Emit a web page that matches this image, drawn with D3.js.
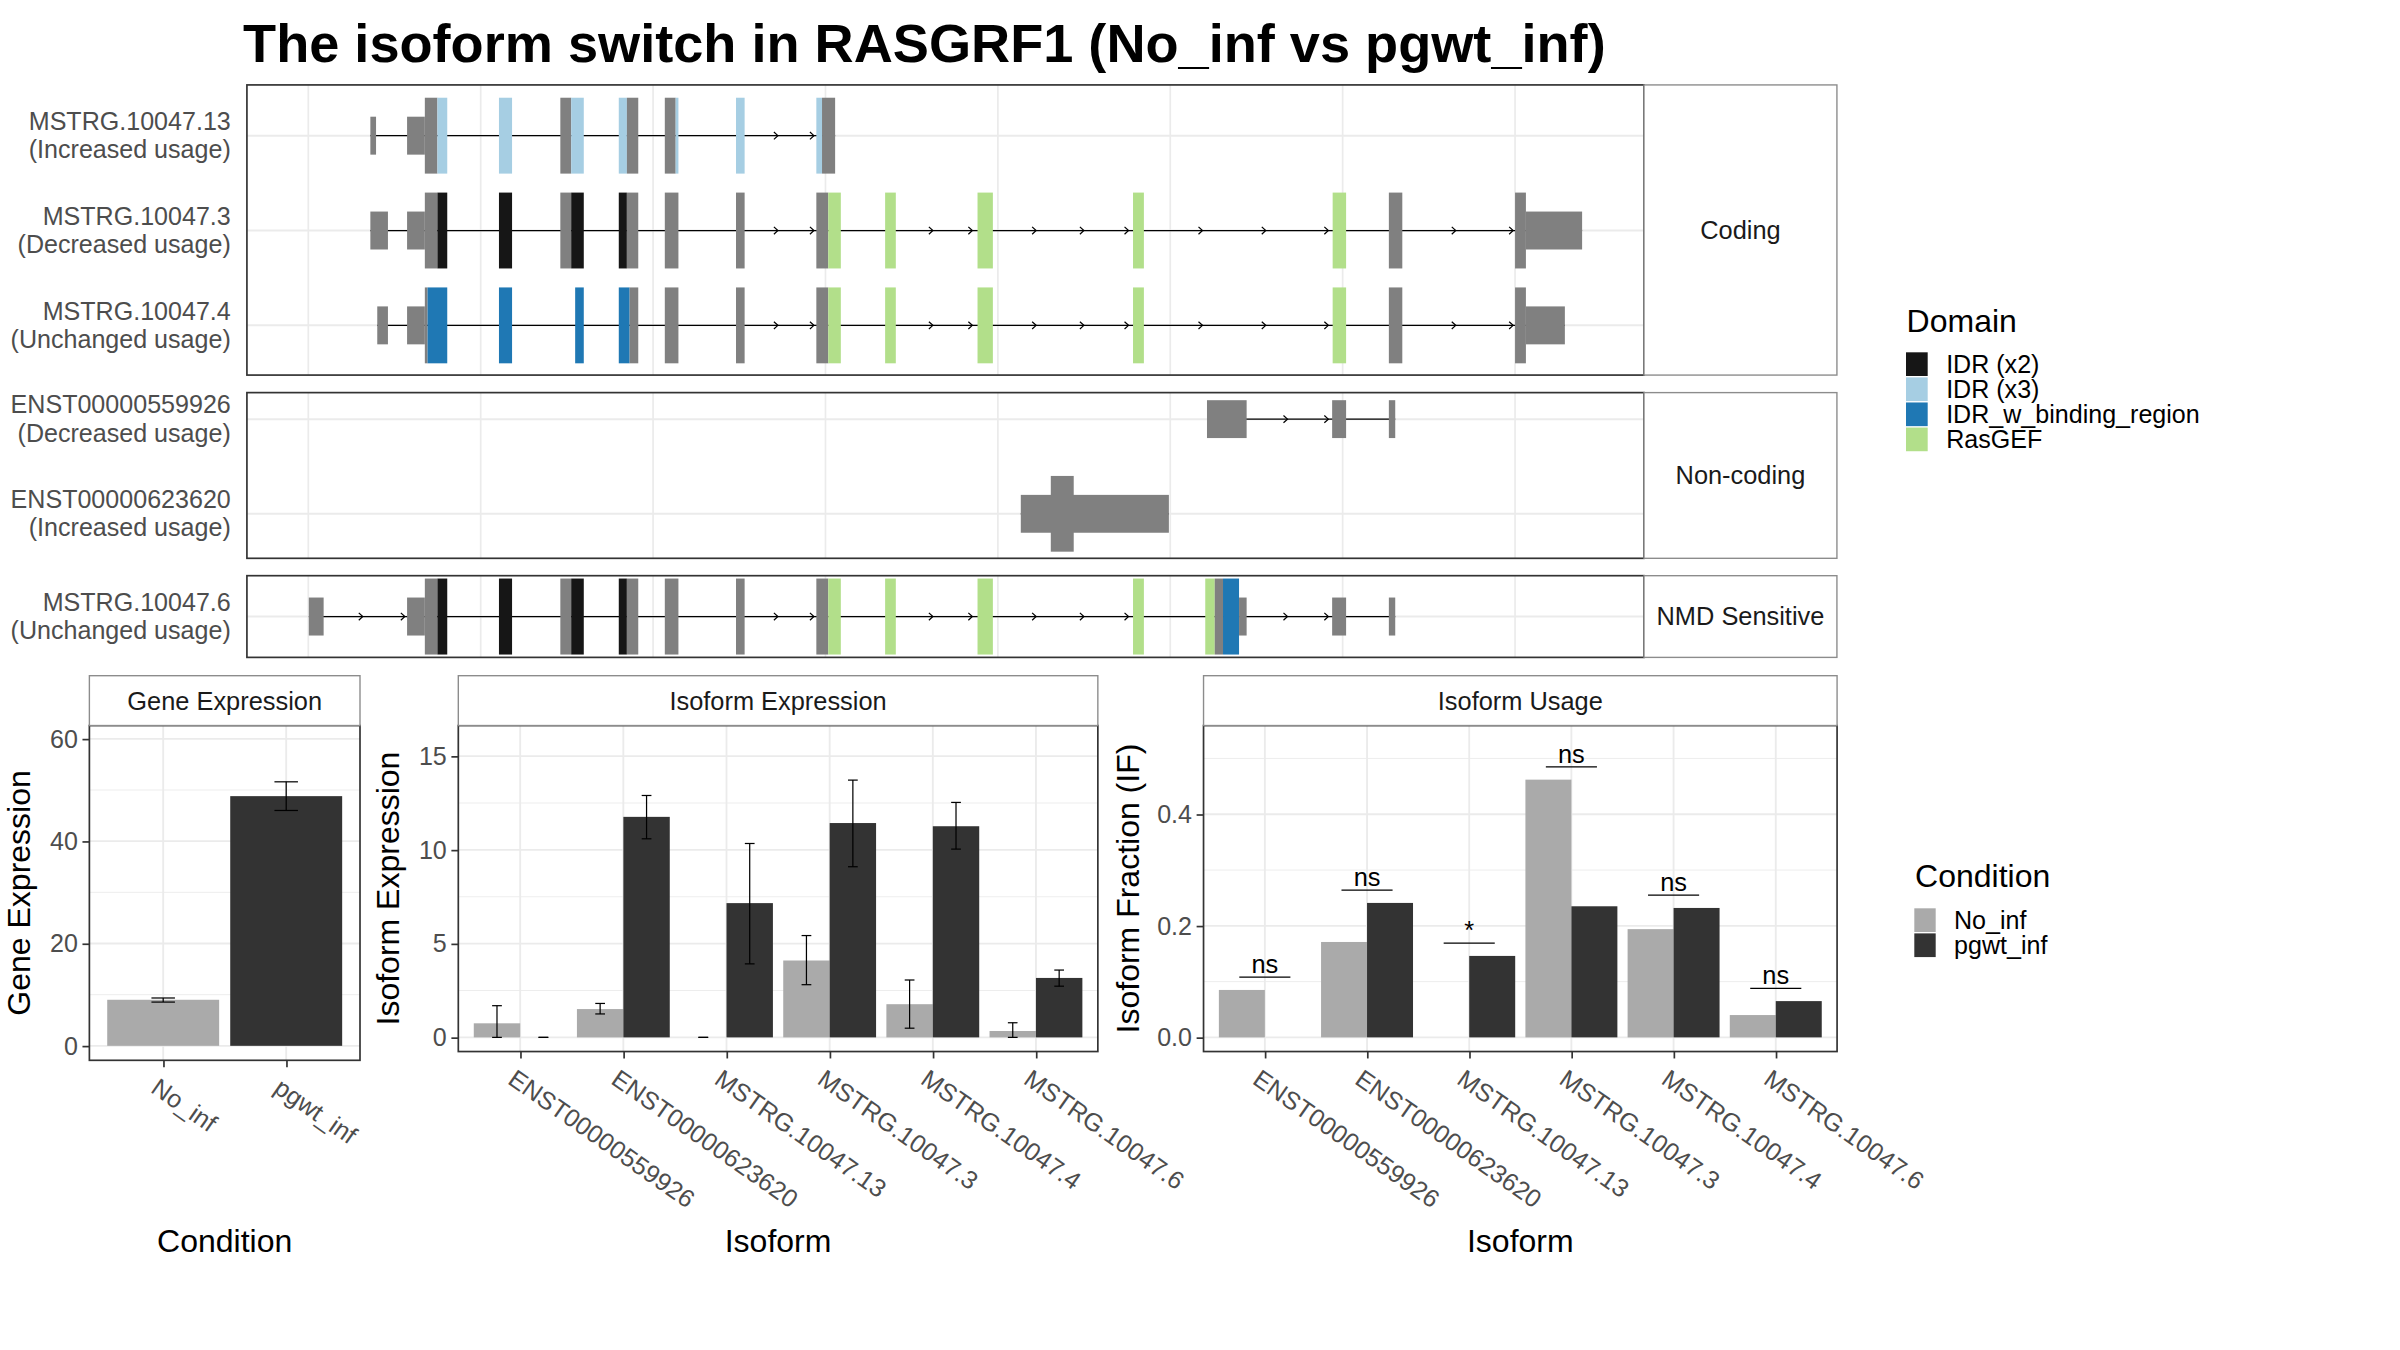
<!DOCTYPE html>
<html>
<head>
<meta charset="utf-8">
<script src="https://cdn.jsdelivr.net/npm/d3@7"></script>
<style>
  body { margin: 0; background: #fff; }
  svg { display: block; }
</style>
</head>
<body>
<div id="chart"></div>
<script>

// ---- data ----
var title = "The isoform switch in RASGRF1 (No_inf vs pgwt_inf)";

var domainNames  = ["IDR (x2)", "IDR (x3)", "IDR_w_binding_region", "RasGEF"];
var domainColors = ["#161616", "#a6cee3", "#1f78b4", "#b2df8a"];
var exonGray = "#808080";

var conditions      = ["No_inf", "pgwt_inf"];
var conditionColors = ["#aaaaaa", "#333333"];

var facets = ["Coding", "Non-coding", "NMD Sensitive"];

var txNames = ["MSTRG.10047.13", "MSTRG.10047.3", "MSTRG.10047.4",
               "ENST00000559926", "ENST00000623620", "MSTRG.10047.6"];
var txUsage = ["Increased usage", "Decreased usage", "Unchanged usage",
               "Decreased usage", "Increased usage", "Unchanged usage"];
var txFacet = ["Coding", "Coding", "Coding", "Non-coding", "Non-coding", "NMD Sensitive"];
var txRow   = [0, 1, 2, 0, 1, 0];

// exon pieces: [start, end, kind, domain index (-1 = none)] in kb (rescaled)
var exons_13 = [
  [13.60, 13.93, "utr", -1], [15.73, 16.76, "utr", -1],
  [16.76, 17.49, "cds", -1], [17.49, 18.06, "cds", 1],
  [21.06, 21.82, "cds", 1],
  [24.62, 25.25, "cds", -1], [25.25, 25.98, "cds", 1],
  [28.01, 28.48, "cds", 1], [28.48, 29.14, "cds", -1],
  [30.68, 31.31, "cds", -1], [31.31, 31.47, "cds", 1],
  [34.81, 35.31, "cds", 1],
  [39.47, 39.80, "cds", 1], [39.80, 40.56, "cds", -1]
];
var exons_3 = [
  [13.60, 14.62, "utr", -1], [15.73, 16.76, "utr", -1],
  [16.76, 17.49, "cds", -1], [17.49, 18.06, "cds", 0],
  [21.06, 21.82, "cds", 0],
  [24.62, 25.25, "cds", -1], [25.25, 25.98, "cds", 0],
  [28.01, 28.48, "cds", 0], [28.48, 29.14, "cds", -1],
  [30.68, 31.47, "cds", -1],
  [34.81, 35.31, "cds", -1],
  [39.47, 40.16, "cds", -1], [40.16, 40.89, "cds", 3],
  [43.46, 44.08, "cds", 3],
  [48.82, 49.71, "cds", 3],
  [57.84, 58.47, "cds", 3],
  [69.42, 70.20, "cds", 3],
  [72.68, 73.46, "cds", -1],
  [80.00, 80.63, "cds", -1], [80.63, 83.89, "utr", -1]
];
var exons_4 = [
  [14.00, 14.62, "utr", -1], [15.73, 16.76, "utr", -1],
  [16.76, 16.92, "cds", -1], [16.92, 18.06, "cds", 2],
  [21.06, 21.82, "cds", 2],
  [25.48, 25.98, "cds", 2],
  [28.01, 28.64, "cds", 2], [28.64, 29.14, "cds", -1],
  [30.68, 31.47, "cds", -1],
  [34.81, 35.31, "cds", -1],
  [39.47, 40.16, "cds", -1], [40.16, 40.89, "cds", 3],
  [43.46, 44.08, "cds", 3],
  [48.82, 49.71, "cds", 3],
  [57.84, 58.47, "cds", 3],
  [69.42, 70.20, "cds", 3],
  [72.68, 73.46, "cds", -1],
  [80.00, 80.63, "cds", -1], [80.63, 82.89, "utr", -1]
];
var exons_559926 = [
  [62.13, 64.43, "utr", -1], [69.39, 70.20, "utr", -1], [72.68, 73.05, "utr", -1]
];
var exons_623620 = [
  [51.33, 59.92, "utr", -1], [53.07, 54.40, "cds", -1]
];
var exons_6 = [
  [10.03, 10.89, "utr", -1], [15.73, 16.76, "utr", -1],
  [16.76, 17.49, "cds", -1], [17.49, 18.06, "cds", 0],
  [21.06, 21.82, "cds", 0],
  [24.62, 25.25, "cds", -1], [25.25, 25.98, "cds", 0],
  [28.01, 28.48, "cds", 0], [28.48, 29.14, "cds", -1],
  [30.68, 31.47, "cds", -1],
  [34.81, 35.31, "cds", -1],
  [39.47, 40.16, "cds", -1], [40.16, 40.89, "cds", 3],
  [43.46, 44.08, "cds", 3],
  [48.82, 49.71, "cds", 3],
  [57.84, 58.47, "cds", 3],
  [62.03, 62.58, "cds", 3], [62.58, 63.06, "cds", -1], [63.06, 63.99, "cds", 2],
  [63.99, 64.43, "utr", -1],
  [69.39, 70.20, "utr", -1],
  [72.68, 73.05, "utr", -1]
];
var txExons = [exons_13, exons_3, exons_4, exons_559926, exons_623620, exons_6];

// direction arrows inside introns (kb)
var arrows_13     = [37.24, 39.33];
var arrows_3      = [37.24, 39.33, 46.23, 48.52, 52.22, 54.99, 57.58, 61.87, 65.54, 69.17, 76.56, 79.89];
var arrows_4      = [37.24, 39.33, 46.23, 48.52, 52.22, 54.99, 57.58, 61.87, 65.54, 69.17, 76.56, 79.89];
var arrows_559926 = [66.80, 69.17];
var arrows_623620 = [];
var arrows_6      = [13.16, 15.60, 37.24, 39.33, 46.23, 48.52, 52.22, 54.99, 57.58, 66.80, 69.17];
var txArrows = [arrows_13, arrows_3, arrows_4, arrows_559926, arrows_623620, arrows_6];

// gene expression
var geneExpr   = [9.0, 48.8];
var geneExprLo = [8.55, 46.0];
var geneExprHi = [9.35, 51.6];

// isoform expression
var isoforms = ["ENST00000559926", "ENST00000623620", "MSTRG.10047.13",
                "MSTRG.10047.3", "MSTRG.10047.4", "MSTRG.10047.6"];
var isoExprNoInf   = [0.75, 1.51, 0, 4.10, 1.77, 0.34];
var isoExprNoInfLo = [0, 1.25, 0, 2.81, 0.49, 0];
var isoExprNoInfHi = [1.69, 1.81, 0, 5.43, 3.06, 0.78];
var isoExprPgwt    = [0, 11.76, 7.16, 11.43, 11.26, 3.17];
var isoExprPgwtLo  = [0, 10.59, 3.92, 9.10, 10.04, 2.73];
var isoExprPgwtHi  = [0, 12.90, 10.34, 13.72, 12.53, 3.59];

// isoform usage
var ifNoInf = [0.085, 0.171, 0, 0.462, 0.194, 0.040];
var ifPgwt  = [0, 0.241, 0.146, 0.235, 0.232, 0.065];
var ifSig   = ["ns", "ns", "*", "ns", "ns", "ns"];


// ---- drawing ----
var FONT = "'Liberation Sans', Arial, Helvetica, sans-serif";
var gridCol = "#ebebeb";
var borderCol = "#333333";
var stripBorder = "#8c8c8c";
var fsText = 16.3, fsStrip = 16.5, fsTitle = 20.8;

var svg = d3.select("#chart").append("svg")
    .attr("width", 2400)
    .attr("height", 1350)
    .attr("viewBox", "0 0 1560 877.5")
    .style("font-family", FONT);

svg.append("rect").attr("width", 1560).attr("height", 877.5).attr("fill", "#fff");

svg.append("text")
  .attr("x", 158).attr("y", 40.1)
  .attr("font-size", 35.2)
  .attr("font-weight", "bold")
  .attr("fill", "#000")
  .text(title);

// TRANSCRIPT PANELS //
var x = d3.scaleLinear().domain([6.44, 87.48]).range([160.5, 1068.6]);
var stripX1 = 1194;
var facetBoxes = [
  {name: "Coding",        y0: 55.2,  y1: 243.8, lo: -0.535, hi: 2.524},
  {name: "Non-coding",    y0: 255.2, y1: 362.9, lo: -0.28,  hi: 1.47},
  {name: "NMD Sensitive", y0: 374.2, y1: 427.3, lo: -0.43,  hi: 0.43}
];

facetBoxes.forEach(function(f) {
  var y = d3.scaleLinear().domain([f.lo, f.hi]).range([f.y0, f.y1]);
  var unit = y(1) - y(0);
  var g = svg.append("g");
  var idx = d3.range(txNames.length).filter(function(i) { return txFacet[i] === f.name; });

  g.append("rect")
    .attr("x", x.range()[0]).attr("y", f.y0)
    .attr("width", x.range()[1] - x.range()[0]).attr("height", f.y1 - f.y0)
    .attr("fill", "#fff");

  g.selectAll(".vgrid")
    .data(x.ticks(8))
    .enter().append("line")
      .attr("x1", function(d) { return x(d); })
      .attr("x2", function(d) { return x(d); })
      .attr("y1", f.y0).attr("y2", f.y1)
      .style("stroke", gridCol).style("stroke-width", 1.1);

  g.selectAll(".hgrid")
    .data(idx)
    .enter().append("line")
      .attr("x1", x.range()[0]).attr("x2", x.range()[1])
      .attr("y1", function(i) { return y(txRow[i]); })
      .attr("y2", function(i) { return y(txRow[i]); })
      .style("stroke", gridCol).style("stroke-width", 1.3);

  idx.forEach(function(i) {
    var cy = y(txRow[i]);
    var ex = txExons[i];
    var s = d3.min(ex, function(e) { return e[0]; });
    var e = d3.max(ex, function(e) { return e[1]; });

    g.append("line")
      .attr("x1", x(s)).attr("x2", x(e))
      .attr("y1", cy).attr("y2", cy)
      .style("stroke", "#000").style("stroke-width", 0.8);

    g.selectAll(".arrow" + i)
      .data(txArrows[i])
      .enter().append("path")
        .attr("d", function(d) {
          var ax = x(d);
          return "M" + (ax - 2.6) + "," + (cy - 2.4) + "L" + ax + "," + cy + "L" + (ax - 2.6) + "," + (cy + 2.4);
        })
        .style("fill", "none").style("stroke", "#000").style("stroke-width", 0.8);

    g.selectAll(".exon" + i)
      .data(ex)
      .enter().append("rect")
        .attr("x", function(d) { return x(d[0]); })
        .attr("width", function(d) { return x(d[1]) - x(d[0]); })
        .attr("y", function(d) { return cy - (d[2] === "cds" ? 0.4 : 0.2) * unit; })
        .attr("height", function(d) { return (d[2] === "cds" ? 0.8 : 0.4) * unit; })
        .style("fill", function(d) { return d[3] < 0 ? exonGray : domainColors[d[3]]; });

    var lab = g.append("text")
      .attr("text-anchor", "end")
      .attr("font-size", fsText)
      .attr("fill", "#4d4d4d");
    lab.append("tspan").attr("x", 150).attr("y", cy - 3.8).text(txNames[i]);
    lab.append("tspan").attr("x", 150).attr("y", cy + 14.6).text("(" + txUsage[i] + ")");
  });

  g.append("rect")
    .attr("x", x.range()[0]).attr("y", f.y0)
    .attr("width", x.range()[1] - x.range()[0]).attr("height", f.y1 - f.y0)
    .style("fill", "none").style("stroke", borderCol).style("stroke-width", 1.1);

  g.append("rect")
    .attr("x", x.range()[1]).attr("y", f.y0)
    .attr("width", stripX1 - x.range()[1]).attr("height", f.y1 - f.y0)
    .style("fill", "#fff").style("stroke", stripBorder).style("stroke-width", 0.9);

  g.append("text")
    .attr("x", (x.range()[1] + stripX1) / 2)
    .attr("y", (f.y0 + f.y1) / 2)
    .attr("dy", "0.35em")
    .attr("text-anchor", "middle")
    .attr("font-size", fsStrip)
    .attr("fill", "#1a1a1a")
    .text(f.name);
});

// DOMAIN LEGEND //
svg.append("text")
  .attr("x", 1239.3).attr("y", 215.6)
  .attr("font-size", fsTitle).attr("fill", "#000")
  .text("Domain");
var dl = svg.selectAll(".dkey").data(domainNames).enter().append("g");
dl.append("rect")
  .attr("x", 1238.9).attr("y", function(d, i) { return 229 + i * 16.3; })
  .attr("width", 14.1).attr("height", 15.4)
  .style("fill", function(d, i) { return domainColors[i]; });
dl.append("text")
  .attr("x", 1265).attr("y", function(d, i) { return 229 + i * 16.3 + 7.7; })
  .attr("dy", "0.35em")
  .attr("font-size", fsText).attr("fill", "#000")
  .text(function(d) { return d; });


// BAR PANELS //
function barPanel(o) {
  var g = svg.append("g");
  var y = d3.scaleLinear().domain(o.ydomain).range([o.y1, o.y0]);
  var xs = d3.scalePoint().domain(o.cats).range([o.x0, o.x1]).padding(0.6);
  var step = xs.step();

  var majors = y.ticks(o.nticks);
  var half = (majors[1] - majors[0]) / 2;
  var minors = d3.range(majors[0] - half, o.ydomain[1], half * 2)
    .filter(function(v) { return v > o.ydomain[0] && v < o.ydomain[1]; });

  g.append("rect")
    .attr("x", o.x0).attr("y", o.y0)
    .attr("width", o.x1 - o.x0).attr("height", o.y1 - o.y0)
    .attr("fill", "#fff");

  g.selectAll(".minor").data(minors).enter().append("line")
    .attr("x1", o.x0).attr("x2", o.x1)
    .attr("y1", function(d) { return y(d); }).attr("y2", function(d) { return y(d); })
    .style("stroke", gridCol).style("stroke-width", 0.6);
  g.selectAll(".major").data(majors).enter().append("line")
    .attr("x1", o.x0).attr("x2", o.x1)
    .attr("y1", function(d) { return y(d); }).attr("y2", function(d) { return y(d); })
    .style("stroke", gridCol).style("stroke-width", 1.2);
  g.selectAll(".vmajor").data(o.cats).enter().append("line")
    .attr("x1", function(d) { return xs(d); }).attr("x2", function(d) { return xs(d); })
    .attr("y1", o.y0).attr("y2", o.y1)
    .style("stroke", gridCol).style("stroke-width", 1.2);

  // bars: one entry per series
  o.series.forEach(function(s, si) {
    var bw = step * o.barFrac;
    var off = o.series.length === 1 ? -bw / 2 : (si === 0 ? -bw : 0);
    g.selectAll(".bar" + si).data(s.values).enter().append("rect")
      .attr("x", function(d, i) { return xs(o.cats[i]) + off; })
      .attr("width", bw)
      .attr("y", function(d) { return y(Math.max(d, 0)); })
      .attr("height", function(d) { return Math.abs(y(0) - y(d)); })
      .style("fill", function(d, i) { return s.colors ? s.colors[i] : s.color; });

    if (s.lo) {
      var cw = bw * 0.21;
      var eb = g.selectAll(".err" + si).data(s.values).enter().append("g");
      eb.each(function(d, i) {
        var cx = xs(o.cats[i]) + off + bw / 2;
        var el = d3.select(this);
        var yl = y(s.lo[i]), yh = y(s.hi[i]);
        el.append("line").attr("x1", cx).attr("x2", cx).attr("y1", yl).attr("y2", yh);
        el.append("line").attr("x1", cx - cw / 2).attr("x2", cx + cw / 2).attr("y1", yl).attr("y2", yl);
        el.append("line").attr("x1", cx - cw / 2).attr("x2", cx + cw / 2).attr("y1", yh).attr("y2", yh);
      });
      eb.selectAll("line").style("stroke", "#000").style("stroke-width", 0.8);
    }
  });

  if (o.sig) {
    o.sig.forEach(function(lbl, i) {
      var top = d3.max(o.series, function(s) { return s.values[i]; }) + 0.023;
      var cx = xs(o.cats[i]);
      g.append("line")
        .attr("x1", cx - step * 0.25).attr("x2", cx + step * 0.25)
        .attr("y1", y(top)).attr("y2", y(top))
        .style("stroke", "#000").style("stroke-width", 0.8);
      g.append("text")
        .attr("x", cx).attr("y", y(top) - 2.5)
        .attr("text-anchor", "middle")
        .attr("font-size", 16.5).attr("fill", "#000")
        .text(lbl);
    });
  }

  g.append("rect")
    .attr("x", o.x0).attr("y", o.y0)
    .attr("width", o.x1 - o.x0).attr("height", o.y1 - o.y0)
    .style("fill", "none").style("stroke", borderCol).style("stroke-width", 1.1);

  // strip
  g.append("rect")
    .attr("x", o.x0).attr("y", 439.2)
    .attr("width", o.x1 - o.x0).attr("height", o.y0 - 439.2)
    .style("fill", "#fff").style("stroke", stripBorder).style("stroke-width", 0.9);
  g.append("text")
    .attr("x", (o.x0 + o.x1) / 2).attr("y", (439.2 + o.y0) / 2)
    .attr("dy", "0.35em").attr("text-anchor", "middle")
    .attr("font-size", fsStrip).attr("fill", "#1a1a1a")
    .text(o.strip);

  // axes
  var ya = g.append("g")
    .attr("transform", "translate(" + o.x0 + ",0)")
    .call(d3.axisLeft(y).tickValues(majors).tickSize(4.5).tickPadding(3).tickFormat(o.fmt));
  var xa = g.append("g")
    .attr("transform", "translate(0," + o.y1 + ")")
    .call(d3.axisBottom(xs).tickSize(4.5));
  [ya, xa].forEach(function(a) {
    a.select(".domain").remove();
    a.selectAll("line").style("stroke", borderCol).style("stroke-width", 1.1);
    a.selectAll("text")
      .style("font-family", FONT)
      .attr("font-size", fsText)
      .attr("fill", "#4d4d4d");
  });
  xa.selectAll("text")
    .attr("x", 4).attr("y", 22).attr("dy", null)
    .attr("text-anchor", "start")
    .attr("transform", "rotate(35)");

  // titles
  svg.append("text")
    .attr("transform", "translate(" + (o.x0 - o.ytitleOff) + "," + ((o.y0 + o.y1) / 2) + ") rotate(-90)")
    .attr("text-anchor", "middle")
    .attr("font-size", fsTitle).attr("fill", "#000")
    .text(o.ytitle);
  svg.append("text")
    .attr("x", (o.x0 + o.x1) / 2).attr("y", 814)
    .attr("text-anchor", "middle")
    .attr("font-size", fsTitle).attr("fill", "#000")
    .text(o.xtitle);
}

barPanel({
  x0: 58.1, x1: 234, y0: 471.6, y1: 689.2,
  ydomain: [-2.83, 62.6], nticks: 4, fmt: d3.format("d"),
  cats: conditions, barFrac: 0.91,
  series: [{values: geneExpr, lo: geneExprLo, hi: geneExprHi, colors: conditionColors}],
  strip: "Gene Expression", ytitle: "Gene Expression", xtitle: "Condition", ytitleOff: 38.5
});

barPanel({
  x0: 297.9, x1: 713.6, y0: 471.6, y1: 683.5,
  ydomain: [-0.755, 16.63], nticks: 4, fmt: d3.format("d"),
  cats: isoforms, barFrac: 0.45,
  series: [
    {values: isoExprNoInf, lo: isoExprNoInfLo, hi: isoExprNoInfHi, color: conditionColors[0]},
    {values: isoExprPgwt,  lo: isoExprPgwtLo,  hi: isoExprPgwtHi,  color: conditionColors[1]}
  ],
  strip: "Isoform Expression", ytitle: "Isoform Expression", xtitle: "Isoform", ytitleOff: 38.5
});

barPanel({
  x0: 782.3, x1: 1194.1, y0: 471.6, y1: 683.5,
  ydomain: [-0.0254, 0.559], nticks: 3, fmt: d3.format(".1f"),
  cats: isoforms, barFrac: 0.45,
  series: [
    {values: ifNoInf, color: conditionColors[0]},
    {values: ifPgwt,  color: conditionColors[1]}
  ],
  sig: ifSig,
  strip: "Isoform Usage", ytitle: "Isoform Fraction (IF)", xtitle: "Isoform", ytitleOff: 42
});

// CONDITION LEGEND //
svg.append("text")
  .attr("x", 1244.8).attr("y", 576.8)
  .attr("font-size", fsTitle).attr("fill", "#000")
  .text("Condition");
var cl = svg.selectAll(".ckey").data(conditions).enter().append("g");
cl.append("rect")
  .attr("x", 1244.3).attr("y", function(d, i) { return 590.4 + i * 16.3; })
  .attr("width", 13.9).attr("height", 15.4)
  .style("fill", function(d, i) { return conditionColors[i]; });
cl.append("text")
  .attr("x", 1270.1).attr("y", function(d, i) { return 590.4 + i * 16.3 + 7.7; })
  .attr("dy", "0.35em")
  .attr("font-size", fsText).attr("fill", "#000")
  .text(function(d) { return d; });

</script>
</body>
</html>
